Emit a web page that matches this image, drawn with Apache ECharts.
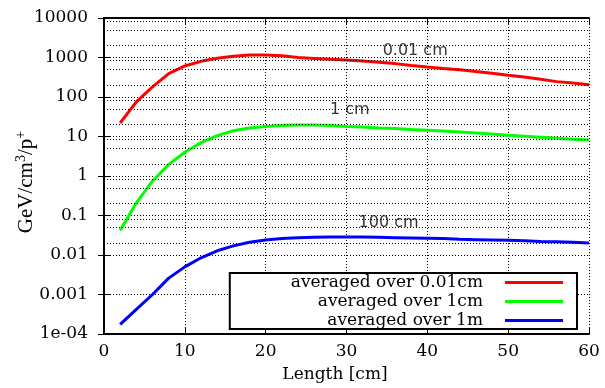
<!DOCTYPE html>
<html><head><meta charset="utf-8">
<script src="https://cdn.jsdelivr.net/npm/echarts@6/dist/echarts.min.js"></script>
<style>html,body{margin:0;padding:0;background:#fff}#c{width:605px;height:388px}</style>
</head><body><div id="c"></div>
<script>
// ---- data ----
const lengthCm = [2,4,6,8,10,12,14,16,18,20,22,24,26,28,30,32,34,36,38,40,42,44,46,48,50,52,54,56,58,60];
const avg001cm = [22,75,180,390,610,800,960,1080,1150,1150,1100,1000,950,900,860,810,760,700,630,575,530,490,440,400,355,320,280,245,225,205];
const avg1cm   = [0.042,0.21,0.75,1.95,4.0,7.0,10.5,14,16.5,18,19,19.5,19.5,19,18,17.5,16.5,16,15,14.4,13.7,13,12.3,11.5,10.8,10.2,9.6,9.0,8.5,8.1];
const avg1m    = [1.75e-4,4.2e-4,1.0e-3,2.6e-3,5.0e-3,8.5e-3,0.0128,0.017,0.021,0.024,0.026,0.0275,0.028,0.0285,0.0285,0.0285,0.028,0.0275,0.027,0.0265,0.026,0.025,0.0245,0.024,0.0235,0.023,0.022,0.0215,0.021,0.0202];
const seriesNames = ['averaged over 0.01cm','averaged over 1cm','averaged over 1m'];
const yTickValues = [1e-4,1e-3,1e-2,1e-1,1,10,100,1000,10000];
const yTickLabels = ['1e-04','0.001','0.01','0.1','1','10','100','1000','10000'];
const xTickLabels = ['0','10','20','30','40','50','60'];
const minorGridValues = [2e-4,5e-4,8.3e-4,2e-3,5e-3,8.3e-3,0.02,0.05,0.083,0.2,0.5,0.83,2,5,8.3,20,50,83,200,500,830,2000,5000,8300];
const annX = [38.5, 30.4, 35.2];
const annY = [1450, 48, 0.0635];
const annText = ['0.01 cm', '1 cm', '100 cm'];

const serif = 'DejaVu Serif';
const sans = 'DejaVu Sans';
const dotted = {color:'#000', type:[1,2], width:1};

function yLab(v){
  let best=0, bd=1e9;
  yTickValues.forEach((t,i)=>{const d=Math.abs(Math.log10(v)-Math.log10(t)); if(d<bd){bd=d;best=i;}});
  return yTickLabels[best];
}
function xLab(v){ const i = Math.round(v/10); return xTickLabels[i] ?? ''; }

const chart = echarts.init(document.getElementById('c'), null, {renderer:'canvas'});
const mk = (arr)=> lengthCm.map((x,i)=>[x, arr[i]]);
const colors = ['#ff0000','#00ff00','#0000ff'];
const values = [avg001cm, avg1cm, avg1m];

const option = {
  animation:false,
  backgroundColor:'#fff',
  grid:{left:104, right:16, top:18, bottom:54, show:false, containLabel:false, outerBoundsMode:'none'},
  xAxis:[{
    type:'value', min:0, max:60, interval:10, position:'bottom',
    name:'Length [cm]', nameLocation:'middle', nameGap:32, nameMoveOverlap:false,
    nameTextStyle:{fontFamily:serif, fontSize:17, color:'#000', padding:[0,23,0,0]},
    axisLine:{show:true, lineStyle:{color:'#000', width:2}},
    axisTick:{show:true, inside:true, length:6, lineStyle:{color:'#000', width:1}},
    axisLabel:{fontFamily:serif, fontSize:17, color:'#000', margin:9, formatter:xLab},
    splitLine:{show:true, lineStyle:dotted}
  },{
    type:'value', min:0, max:60, interval:10, position:'top',
    axisLine:{show:true, lineStyle:{color:'#000', width:2}},
    axisTick:{show:true, inside:true, length:6, lineStyle:{color:'#000', width:1}},
    axisLabel:{show:false}, splitLine:{show:false}
  }],
  yAxis:[{
    type:'log', logBase:10, min:1e-4, max:1e4, interval:1, position:'left',
    name:'GeV/cm{s|3}/p{s|+}', nameLocation:'middle', nameGap:66, nameMoveOverlap:false,
    nameTextStyle:{fontFamily:'Liberation Serif', fontSize:21, color:'#000', padding:[0,12,0,0],
      rich:{s:{fontFamily:'Liberation Serif', fontSize:14, color:'#000', verticalAlign:'bottom', padding:[0,0,10,0]}}},
    axisLine:{show:true, lineStyle:{color:'#000', width:2}},
    axisTick:{show:true, inside:true, length:6, lineStyle:{color:'#000', width:1}},
    axisLabel:{fontFamily:serif, fontSize:17, color:'#000', margin:16, formatter:yLab},
    splitLine:{show:true, lineStyle:dotted}
  },{
    type:'log', logBase:10, min:1e-4, max:1e4, interval:1, position:'right',
    axisLine:{show:true, lineStyle:{color:'#000', width:2}},
    axisTick:{show:true, inside:true, length:6, lineStyle:{color:'#000', width:1}},
    axisLabel:{show:false}, splitLine:{show:false}
  }],
  legend:{
    data:seriesNames, orient:'vertical', align:'right', right:28, top:273,
    itemWidth:58, itemHeight:3, itemGap:2, icon:'rect',
    padding:[1,14,0,61], borderColor:'#000', borderWidth:2, backgroundColor:'#fff',
    selectedMode:false,
    textStyle:{fontFamily:serif, fontSize:17, color:'#000', lineHeight:17, padding:[0,17,0,0]}
  },
  series:[
    {
      name:'grid', type:'line', data:[], z:1, silent:true,
      markLine:{silent:true, symbol:['none','none'], label:{show:false},
        lineStyle:dotted, animation:false,
        data: minorGridValues.map(v=>({yAxis:v}))}
    },
    ...values.map((arr,i)=>({
      name:seriesNames[i], type:'line', data:mk(arr), showSymbol:false, symbol:'none',
      z:3, color:colors[i], itemStyle:{color:colors[i]},
      lineStyle:{color:colors[i], width:3}
    })),
    {
      name:'labels', type:'scatter', symbolSize:0, z:5,
      data: annX.map((x,i)=>({value:[x, annY[i]], label:{formatter:annText[i]}})),
      label:{show:true, position:'inside', fontFamily:sans, fontSize:16, color:'#000'}
    }
  ]
};
chart.setOption(option);
</script>
</body></html>
